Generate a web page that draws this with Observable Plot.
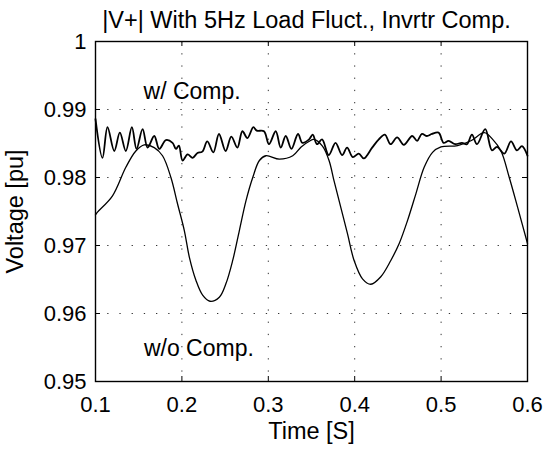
<!DOCTYPE html>
<html>
<head>
<meta charset="utf-8">
<script src="https://cdn.jsdelivr.net/npm/d3@7"></script>
<script src="https://cdn.jsdelivr.net/npm/@observablehq/plot@0.6"></script>
<style>
  html, body { margin: 0; padding: 0; background: #fff; }
  #chart svg { display: block; }
</style>
</head>
<body>
<div id="chart"></div>
<script>
const titleText = "|V+| With 5Hz Load Fluct., Invrtr Comp.";
const xLabel = "Time [S]";
const yLabel = "Voltage [pu]";
const xTicks = [0.1, 0.2, 0.3, 0.4, 0.5, 0.6];
const yTicks = [0.95, 0.96, 0.97, 0.98, 0.99, 1];

// Without compensation (smooth curve)
const timeWo = [0.1, 0.1023, 0.1197, 0.1351, 0.1467, 0.1564, 0.168, 0.1776, 0.1873, 0.195, 0.2028, 0.2086, 0.2162, 0.224, 0.2325, 0.2433, 0.251, 0.2588, 0.2665, 0.2742, 0.282, 0.2897, 0.2973, 0.3128, 0.3283, 0.338, 0.347, 0.353, 0.3627, 0.3703, 0.3761, 0.3839, 0.3917, 0.3993, 0.409, 0.4187, 0.4302, 0.4418, 0.4515, 0.4612, 0.4708, 0.4804, 0.4901, 0.4998, 0.5191, 0.5345, 0.55, 0.5597, 0.5693, 0.5789, 0.5886, 0.6];
const voltWo = [0.9745, 0.9749, 0.9773, 0.9815, 0.9839, 0.9848, 0.9844, 0.9832, 0.9800, 0.9761, 0.9722, 0.9683, 0.9649, 0.9627, 0.9618, 0.9624, 0.9644, 0.9678, 0.9722, 0.9766, 0.9800, 0.9825, 0.9832, 0.9827, 0.9832, 0.9845, 0.9853, 0.9856, 0.9846, 0.9825, 0.9795, 0.9756, 0.9717, 0.9678, 0.9651, 0.9643, 0.9654, 0.9678, 0.9703, 0.9737, 0.9776, 0.9815, 0.9837, 0.9845, 0.9847, 0.9854, 0.9866, 0.9856, 0.9839, 0.9800, 0.9756, 0.9703];

// With compensation (oscillating curve)
const timeW = [0.1, 0.1081, 0.1139, 0.1217, 0.1282, 0.1351, 0.1421, 0.1475, 0.1545, 0.1603, 0.168, 0.1738, 0.1815, 0.1892, 0.1931, 0.1965, 0.2008, 0.2066, 0.2124, 0.218, 0.2236, 0.2294, 0.2364, 0.2429, 0.2506, 0.2572, 0.2642, 0.27, 0.2758, 0.2827, 0.2866, 0.295, 0.3008, 0.3086, 0.3144, 0.3202, 0.3268, 0.3344, 0.3395, 0.3472, 0.3514, 0.3564, 0.3622, 0.37, 0.3778, 0.3854, 0.3912, 0.3978, 0.4047, 0.4105, 0.4202, 0.4279, 0.4349, 0.4415, 0.4491, 0.4569, 0.4665, 0.4723, 0.4778, 0.4836, 0.4893, 0.4971, 0.5029, 0.5087, 0.5163, 0.5241, 0.5299, 0.5357, 0.5415, 0.5511, 0.5589, 0.5647, 0.5731, 0.5809, 0.5878, 0.5936, 0.6];
const voltW = [0.9886, 0.9829, 0.9874, 0.9839, 0.9866, 0.9839, 0.9874, 0.9842, 0.9871, 0.9844, 0.9861, 0.9842, 0.9855, 0.9851, 0.9842, 0.9847, 0.9825, 0.9834, 0.9829, 0.9836, 0.9838, 0.9853, 0.9837, 0.9864, 0.9839, 0.9860, 0.9844, 0.9868, 0.9858, 0.9874, 0.9869, 0.9868, 0.9849, 0.9868, 0.9844, 0.9861, 0.9842, 0.9864, 0.9851, 0.9856, 0.9863, 0.9849, 0.9856, 0.9833, 0.9851, 0.9833, 0.9844, 0.9830, 0.9835, 0.9828, 0.9844, 0.9856, 0.9863, 0.9849, 0.9859, 0.9848, 0.9861, 0.9854, 0.9864, 0.9861, 0.9864, 0.9866, 0.9851, 0.9854, 0.9849, 0.9851, 0.9849, 0.9863, 0.9849, 0.9871, 0.9840, 0.9845, 0.9835, 0.9853, 0.9840, 0.9846, 0.9832];

const annotations = [
  {t: 0.1556, v: 0.9927, label: "w/ Comp."},
  {t: 0.1560, v: 0.9549, label: "w/o Comp."}
];

const wo = timeWo.map((t, i) => ({t, v: voltWo[i]}));
const w = timeW.map((t, i) => ({t, v: voltW[i]}));

const W = 544, H = 450;
const mL = 95, mR = 17, mT = 41, mB = 69;
const frameW = W - mL - mR, frameH = H - mT - mB;
const font = "Liberation Sans, Arial, Helvetica, sans-serif";

const chart = Plot.plot({
  width: W,
  height: H,
  marginLeft: mL,
  marginRight: mR,
  marginTop: mT,
  marginBottom: mB,
  style: {fontFamily: font, background: "#fff", color: "#000", overflow: "visible"},
  x: {domain: [0.1, 0.6], ticks: xTicks, tickSize: 0, tickPadding: 15, tickFormat: d => String(d), label: null},
  y: {domain: [0.95, 1], ticks: yTicks, tickSize: 0, tickPadding: 9, tickFormat: d => String(d), label: null},
  marks: [
    // dotted grid
    Plot.ruleX(xTicks.slice(1, -1), {stroke: "#000", strokeWidth: 1, strokeDasharray: "1.3,10.9", strokeOpacity: 0.8}),
    Plot.ruleY(yTicks.slice(1, -1), {stroke: "#000", strokeWidth: 1, strokeDasharray: "1.3,10.9", strokeOpacity: 0.8}),
    // inner ticks
    Plot.tickX(xTicks, {stroke: "#000", insetTop: frameH - 5}),
    Plot.tickX(xTicks, {stroke: "#000", insetBottom: frameH - 5}),
    Plot.tickY(yTicks, {stroke: "#000", insetRight: frameW - 5}),
    Plot.tickY(yTicks, {stroke: "#000", insetLeft: frameW - 5}),
    // curves
    Plot.line(wo, {x: "t", y: "v", stroke: "#000", strokeWidth: 1.3, curve: "catmull-rom"}),
    Plot.line(w, {x: "t", y: "v", stroke: "#000", strokeWidth: 1.8, curve: "catmull-rom"}),
    // frame
    Plot.frame({stroke: "#000", strokeWidth: 1.4}),
    // annotations
    Plot.text(annotations, {x: "t", y: "v", text: "label", textAnchor: "start", fontSize: 23, fill: "#000"}),
    // title and axis labels
    Plot.text([titleText], {frameAnchor: "top", textAnchor: "middle", dy: -30, dx: -5, fontSize: 23.5, fill: "#000"}),
    Plot.text([xLabel], {frameAnchor: "bottom", textAnchor: "middle", dy: 57, fontSize: 23.5, fill: "#000"}),
    Plot.text([yLabel], {frameAnchor: "left", textAnchor: "middle", dx: -80, rotate: -90, fontSize: 23.5, fill: "#000"})
  ]
});

chart.querySelectorAll("[aria-label='x-axis tick label'], [aria-label='y-axis tick label']").forEach(g => {
  g.setAttribute("font-size", "22");
  g.style.fontSize = "22px";
});
document.getElementById("chart").appendChild(chart);
</script>
</body>
</html>
